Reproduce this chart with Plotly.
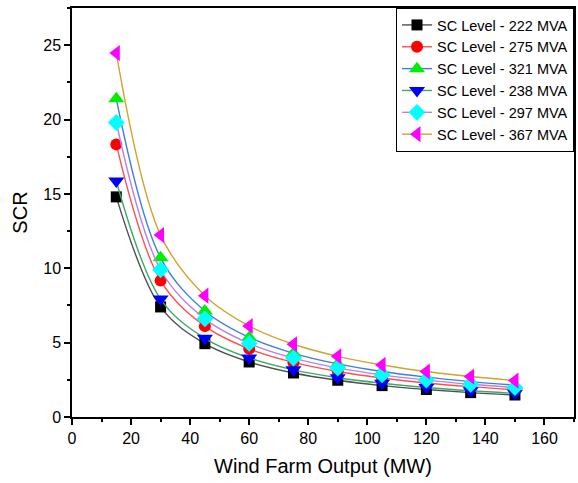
import plotly.graph_objects as go

wind_mw = [15, 30, 45, 60, 75, 90, 105, 120, 135, 150]

scr_222 = [14.80, 7.40, 4.93, 3.70, 2.96, 2.47, 2.11, 1.85, 1.64, 1.48]
scr_275 = [18.33, 9.17, 6.11, 4.58, 3.67, 3.06, 2.62, 2.29, 2.04, 1.83]
scr_321 = [21.40, 10.70, 7.13, 5.35, 4.28, 3.57, 3.06, 2.68, 2.38, 2.14]
scr_238 = [15.87, 7.93, 5.29, 3.97, 3.17, 2.64, 2.27, 1.98, 1.76, 1.59]
scr_297 = [19.80, 9.90, 6.60, 4.95, 3.96, 3.30, 2.83, 2.48, 2.20, 1.98]
scr_367 = [24.47, 12.23, 8.16, 6.12, 4.89, 4.08, 3.50, 3.06, 2.72, 2.45]

names = ["SC Level - 222 MVA", "SC Level - 275 MVA", "SC Level - 321 MVA",
         "SC Level - 238 MVA", "SC Level - 297 MVA", "SC Level - 367 MVA"]
series = [scr_222, scr_275, scr_321, scr_238, scr_297, scr_367]
line_colors = ["#505050", "#ff4f4f", "#3a7fe3", "#3aaa6a", "#b982e8", "#d4a32a"]
marker_colors = ["#000000", "#ff0000", "#00ee00", "#0000ff", "#00ffff", "#ff00ff"]
symbols = ["square", "circle", "triangle-up", "triangle-down", "diamond", "triangle-left"]
sizes = [11, 12, 14, 14, 13, 14]

fig = go.Figure()
for n, y, lc, mc, s, sz in zip(names, series, line_colors, marker_colors, symbols, sizes):
    fig.add_trace(go.Scatter(
        x=wind_mw, y=y, name=n, mode="lines+markers",
        line=dict(color=lc, width=1.4, shape="spline", smoothing=1.0),
        marker=dict(symbol=s, color=mc, size=sz, line=dict(width=0)),
    ))

axis_common = dict(
    showline=True, linecolor="black", linewidth=1.5, mirror=True,
    ticks="outside", ticklen=6, tickwidth=1.5, tickcolor="black",
    showgrid=False, zeroline=False,
    tickfont=dict(family="Arial, Liberation Sans", size=16, color="black"),
    minor=dict(ticks="outside", ticklen=3, tickwidth=1.5, tickcolor="black"),
)

fig.update_xaxes(range=[0, 170], tickvals=[0, 20, 40, 60, 80, 100, 120, 140, 160],
                 minor_dtick=10,
                 title=dict(text="Wind Farm Output (MW)", standoff=13,
                            font=dict(family="Arial, Liberation Sans", size=20, color="black")),
                 **axis_common)
fig.update_yaxes(range=[0, 27.5], tickvals=[0, 5, 10, 15, 20, 25],
                 minor_dtick=2.5,
                 title=dict(text="SCR", standoff=10,
                            font=dict(family="Arial, Liberation Sans", size=20, color="black")),
                 **axis_common)

fig.update_layout(
    width=578, height=483,
    margin=dict(l=72, r=2, t=8, b=66),
    plot_bgcolor="white", paper_bgcolor="white",
    font=dict(family="Arial, Liberation Sans", color="black"),
    legend=dict(x=1, y=1, xanchor="right", yanchor="top",
                bordercolor="black", borderwidth=1, bgcolor="white",
                font=dict(family="Arial, Liberation Sans", size=14.5, color="black"),
                tracegroupgap=0, itemwidth=30),
)

fig.write_html("out.html")
